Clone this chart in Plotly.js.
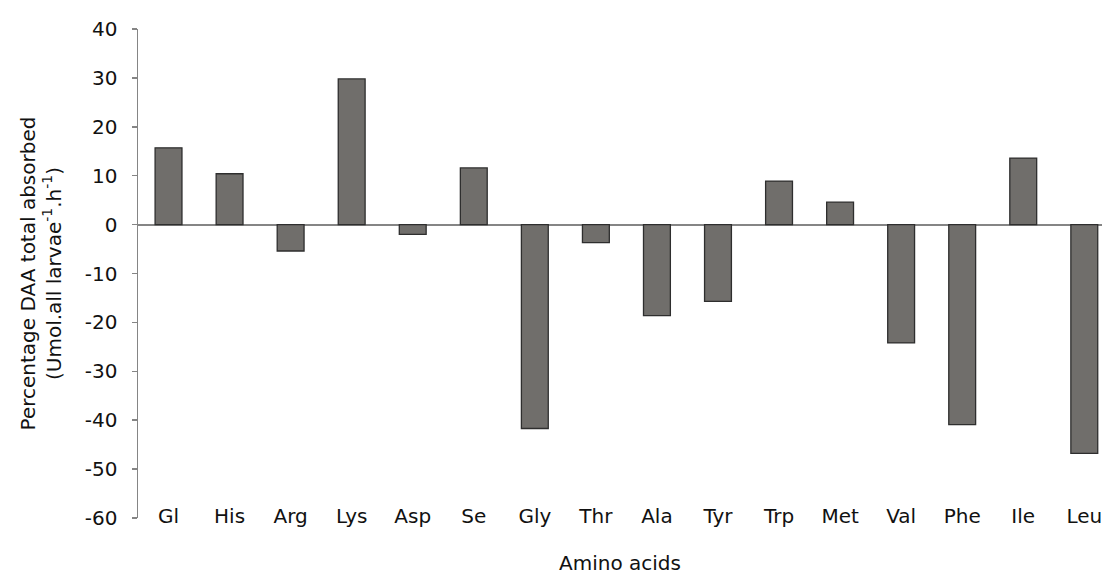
<!DOCTYPE html>
<html>
<head>
<meta charset="utf-8">
<script src="https://cdn.plot.ly/plotly-3.0.1.min.js"></script>
<style>html,body{margin:0;padding:0;background:#fff;}#chart{width:1102px;height:575px;}</style>
</head>
<body>
<div id="chart"></div>
<script>
const categories = ["Gl","His","Arg","Lys","Asp","Se","Gly","Thr","Ala","Tyr","Trp","Met","Val","Phe","Ile","Leu"];
const values = [15.7, 10.4, -5.4, 29.8, -2.0, 11.6, -41.7, -3.7, -18.6, -15.7, 8.9, 4.6, -24.2, -40.9, 13.6, -46.8];
const yTicks = [40, 30, 20, 10, 0, -10, -20, -30, -40, -50, -60];

const fontFam = '"DejaVu Sans", "Liberation Sans", Arial, sans-serif';
const trace = {
  type: 'bar',
  x: categories.map((c, i) => i),
  y: values,
  width: 0.44,
  marker: {color: '#706e6b', line: {color: '#2e2e2e', width: 1.3}},
  hoverinfo: 'x+y'
};

const layout = {
  width: 1102, height: 575,
  margin: {l: 137.5, r: 0, t: 29, b: 57},
  paper_bgcolor: '#ffffff', plot_bgcolor: '#ffffff',
  showlegend: false,
  font: {family: fontFam, size: 20, color: '#111111'},
  xaxis: {
    range: [-0.5, 15.29],
    tickmode: 'array',
    tickvals: categories.map((c, i) => i),
    ticktext: categories,
    showline: false, showgrid: false, zeroline: false,
    ticks: '',
    ticklabeloverflow: 'allow',
    anchor: 'free', position: 0.032,
    tickfont: {family: fontFam, size: 20, color: '#111111'},
    title: {text: 'Amino acids', font: {family: fontFam, size: 20, color: '#111111'}, standoff: 28}
  },
  yaxis: {
    range: [-60, 40],
    tickmode: 'array', tickvals: yTicks, ticktext: yTicks.map(String),
    showline: true, linecolor: '#858585', linewidth: 1.5,
    ticks: 'outside', ticklen: 5, tickcolor: '#858585', tickwidth: 1.5,
    ticklabelstandoff: 10,
    showgrid: false,
    zeroline: true, zerolinecolor: '#858585', zerolinewidth: 2,
    tickfont: {family: fontFam, size: 20, color: '#111111'},
    title: {text: 'Percentage DAA total absorbed<br>(Umol.all larvae<sup>-1</sup>.h<sup>-1</sup>)', font: {family: fontFam, size: 20, color: '#111111'}, standoff: 18}
  },
  bargap: 0.56
};

Plotly.newPlot('chart', [trace], layout, {displayModeBar: false, staticPlot: true});
</script>
</body>
</html>
